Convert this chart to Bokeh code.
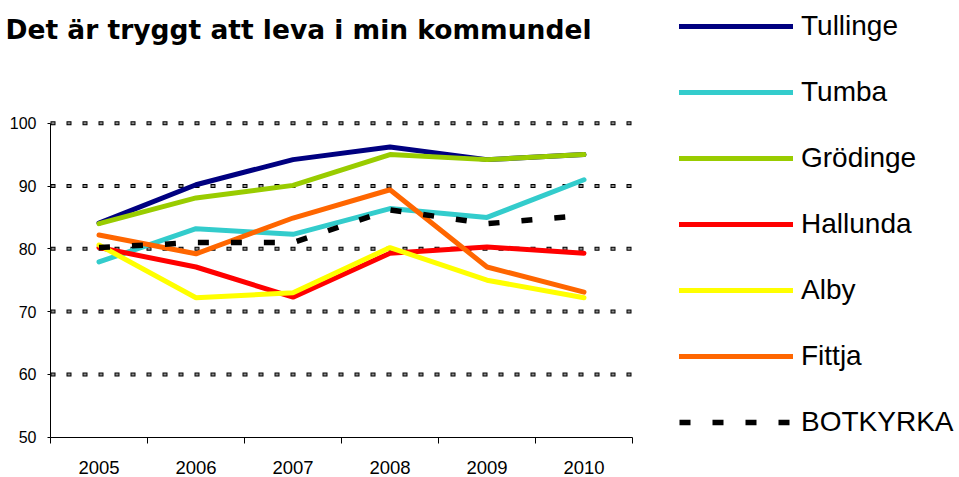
from bokeh.plotting import figure
from bokeh.models import (Legend, LegendItem, Label, FixedTicker, Range1d,
                          NumeralTickFormatter)
from bokeh.embed import file_html
from bokeh.resources import INLINE

title_text = "Det är tryggt att leva i min kommundel"
years = [2005, 2006, 2007, 2008, 2009, 2010]
y_ticks = [50, 60, 70, 80, 90, 100]

names = ["Tullinge", "Tumba", "Grödinge", "Hallunda", "Alby", "Fittja", "BOTKYRKA"]
tullinge = [84.1, 90.2, 94.2, 96.2, 94.2, 95.0]
tumba = [77.9, 83.2, 82.3, 86.4, 85.0, 91.0]
grodinge = [84.0, 88.1, 90.1, 95.0, 94.2, 95.0]
hallunda = [80.2, 77.1, 72.3, 79.3, 80.3, 79.3]
alby = [80.6, 72.2, 73.0, 80.2, 75.0, 72.2]
fittja = [82.2, 79.2, 84.9, 89.4, 77.1, 73.1]
botkyrka = [80.2, 81.0, 81.0, 86.2, 84.0, 85.3]
series = [tullinge, tumba, grodinge, hallunda, alby, fittja, botkyrka]
colors = ["#000080", "#33CCCC", "#99CC00", "#FF0000", "#FFFF00", "#FF6600", "#000000"]

# layout (pixels)
W, H = 959, 477
PLOT_L, PLOT_R, PLOT_T, PLOT_B = 50, 632, 122.7, 436.7

x_lo, x_hi = years[0] - 0.5, years[-1] + 0.5
px_per_x = (PLOT_R - PLOT_L) / (x_hi - x_lo)
px_per_y = (PLOT_B - PLOT_T) / (y_ticks[-1] - y_ticks[0])

p = figure(width=W, height=H, output_backend="svg", toolbar_location=None,
           x_range=Range1d(x_lo - PLOT_L / px_per_x, x_lo + (W - PLOT_L) / px_per_x),
           y_range=Range1d(y_ticks[0] - (H - PLOT_B) / px_per_y,
                           y_ticks[0] + PLOT_B / px_per_y),
           min_border_left=0, min_border_right=0, min_border_top=0,
           min_border_bottom=0)
p.outline_line_color = None
p.xgrid.visible = False
p.ygrid.visible = False

# dotted horizontal gridlines limited to the plot area
gy = y_ticks[1:]
p.segment(x0=[x_lo] * len(gy), x1=[x_hi] * len(gy), y0=gy, y1=gy,
          line_color="black", line_width=4, line_dash="5 11", level="underlay")
p.segment(x0=[x_lo] * len(gy), x1=[x_hi] * len(gy), y0=gy, y1=gy,
          line_color="#8c8c8c", line_width=2, line_dash="3 13", line_dash_offset=15,
          level="underlay")

renderers = []
for name, vals, col in zip(names, series, colors):
    if name == "BOTKYRKA":
        r = p.line(years, vals, line_color=col, line_width=5.5, line_dash="11 22")
    else:
        r = p.line(years, vals, line_color=col, line_width=5, line_cap="round")
    renderers.append(r)

# x axis
xa = p.xaxis[0]
xa.fixed_location = y_ticks[0]
xa.bounds = (x_lo, x_hi)
xa.ticker = FixedTicker(ticks=years, minor_ticks=[y - 0.5 for y in years] + [x_hi])
xa.formatter = NumeralTickFormatter(format="0")
xa.major_tick_out = 0
xa.major_tick_in = 0
xa.minor_tick_out = 6
xa.minor_tick_in = 0
xa.minor_tick_line_color = "black"
xa.axis_line_color = "black"
xa.major_label_text_font = "Liberation Sans"
xa.major_label_text_font_size = "18.5px"
xa.major_label_text_color = "black"
xa.major_label_standoff = 18

# y axis
ya = p.yaxis[0]
ya.fixed_location = x_lo
ya.bounds = (y_ticks[0], y_ticks[-1])
ya.ticker = FixedTicker(ticks=y_ticks)
ya.major_tick_out = 3
ya.major_tick_in = 0
ya.minor_tick_out = 0
ya.minor_tick_in = 0
ya.major_tick_line_color = "black"
ya.axis_line_color = "black"
ya.major_label_text_font = "Liberation Sans"
ya.major_label_text_font_size = "16px"
ya.major_label_text_color = "black"
ya.major_label_standoff = 11

legend = Legend(items=[LegendItem(label=n, renderers=[r]) for n, r in zip(names, renderers)],
                location=(679, H - 9 - 430), orientation="vertical", padding=0,
                margin=0, spacing=32, glyph_width=114, glyph_height=34, label_height=34,
                label_standoff=8, label_text_font="Liberation Sans",
                label_text_font_size="28px", label_text_color="black",
                border_line_color=None, background_fill_alpha=0)
p.add_layout(legend)

title = Label(x=5, y=H - 29.3, x_units="screen", y_units="screen", text=title_text,
              text_font="DejaVu Sans", text_font_style="bold", text_font_size="26.5px",
              text_baseline="alphabetic", text_color="black")
p.add_layout(title)

open("out.html", "w").write(file_html(p, INLINE))
